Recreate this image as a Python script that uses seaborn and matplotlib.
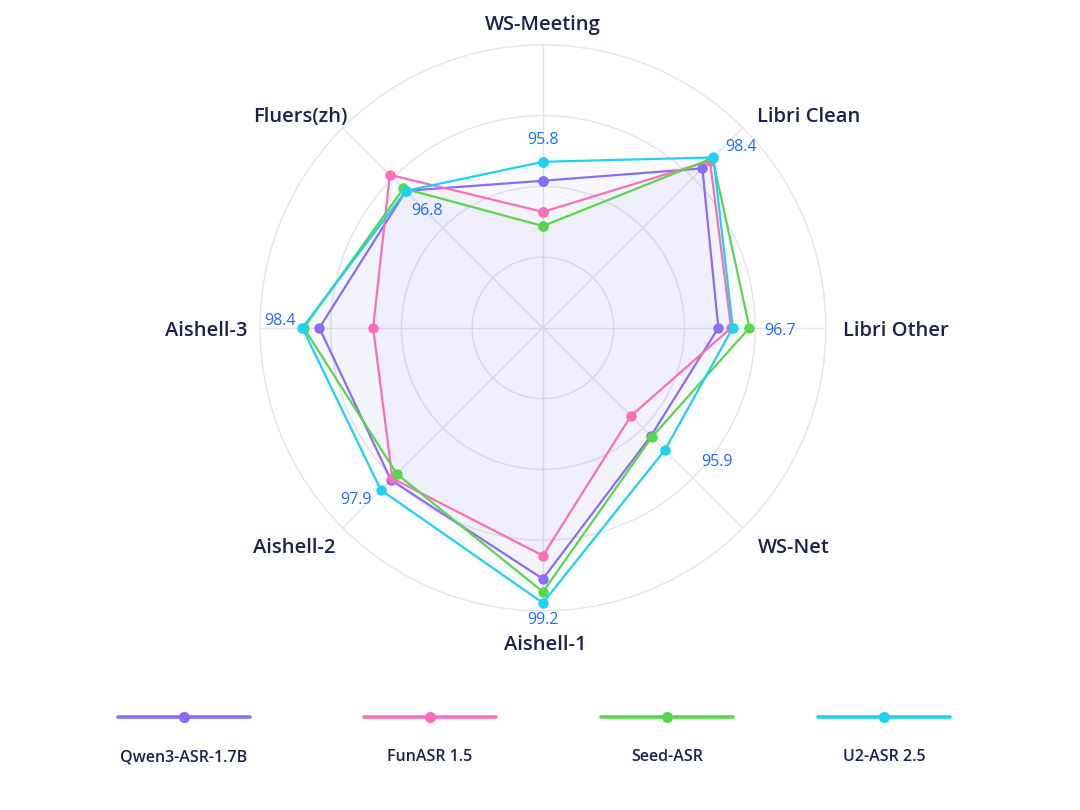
import numpy as np
import pandas as pd
import matplotlib
matplotlib.use('Agg')
import matplotlib.pyplot as plt
from matplotlib.lines import Line2D
import seaborn as sns

# benchmark spokes, clockwise from the top
axes_names = ['WS-Meeting', 'Libri Clean', 'Libri Other', 'WS-Net',
              'Aishell-1', 'Aishell-2', 'Aishell-3', 'Fluers(zh)']
models = ['Qwen3-ASR-1.7B', 'FunASR 1.5', 'Seed-ASR', 'U2-ASR 2.5']

# normalised radius on each spoke (1.0 = outer ring)
qwen = [0.52, 0.797, 0.62, 0.54, 0.887, 0.76, 0.79, 0.685]
funasr = [0.41, 0.835, 0.665, 0.44, 0.805, 0.752, 0.60, 0.765]
seed = [0.36, 0.848, 0.73, 0.545, 0.933, 0.73, 0.845, 0.697]
u2 = [0.587, 0.852, 0.671, 0.61, 0.972, 0.81, 0.85, 0.685]
u2_labels = ['95.8', '98.4', '96.7', '95.9', '99.2', '97.9', '98.4', '96.8']

colors = {'Qwen3-ASR-1.7B': '#8a6cf5', 'FunASR 1.5': '#fb6fb6',
          'Seed-ASR': '#5bd64c', 'U2-ASR 2.5': '#1fd1f3'}
navy = '#1c2150'
blue = '#1f6bff'
grid_c = '#e4e4ea'

sns.set_theme(style='white')
plt.rcParams['font.family'] = ['Open Sans', 'DejaVu Sans']

n = len(axes_names)
angles = np.arange(n) * 2 * np.pi / n
series = {'Qwen3-ASR-1.7B': qwen, 'FunASR 1.5': funasr, 'Seed-ASR': seed, 'U2-ASR 2.5': u2}

rows = []
for m in models:
    vals = series[m]
    for i in range(n + 1):
        rows.append({'model': m, 'theta': angles[i] if i < n else 2 * np.pi,
                     'r': vals[i % n]})
df = pd.DataFrame(rows)

fig = plt.figure(figsize=(10.8, 8.1), dpi=100)
ax = fig.add_axes([0.2407, 0.2457, 0.524, 0.699], projection='polar')
ax.set_theta_offset(np.pi / 2)
ax.set_theta_direction(-1)
ax.set_ylim(0, 1)
ax.set_yticks([0.25, 0.5, 0.75])
ax.set_yticklabels([])
ax.set_xticks(angles)
ax.set_xticklabels([])
ax.grid(color=grid_c, linewidth=1)
ax.spines['polar'].set_color(grid_c)
ax.spines['polar'].set_linewidth(1)
ax.set_facecolor('white')

# light lavender fill under every polygon
for m in models:
    d = df[df.model == m]
    ax.fill(d.theta, d.r, color='#7d70ee', alpha=0.028, lw=0, zorder=1)

sns.lineplot(data=df, x='theta', y='r', hue='model', palette=colors,
             sort=False, estimator=None, units='model', marker='o',
             markersize=7.5, markeredgewidth=0, linewidth=1.6,
             legend=False, ax=ax)
ax.set_xlabel('')
ax.set_ylabel('')

px = 72 / fig.dpi

# spoke names: (dx, dy) in pixels from the end of the spoke
name_pos = [(0, 20, 'center'), (14, 11, 'left'), (17, -3, 'left'), (15, -20, 'left'),
            (2, -34, 'center'), (-7, -20, 'right'), (-12, -3, 'right'), (5, 11, 'right')]
for a, name, (dx, dy, ha) in zip(angles, axes_names, name_pos):
    ax.annotate(name, xy=(a, 1.0), xytext=(dx * px, dy * px), textcoords='offset points',
                ha=ha, va='center', fontsize=14.5, fontweight=600, color=navy,
                annotation_clip=False)

# U2-ASR scores next to its points
val_off = [(0, 22), (28, 10), (47, -3), (52, -12), (0, -17), (-25, -10), (-22, 7), (21, -20)]
for a, r, lab, (dx, dy) in zip(angles, u2, u2_labels, val_off):
    ax.annotate(lab, xy=(a, r), xytext=(dx * px, dy * px), textcoords='offset points',
                ha='center', va='center', fontsize=11.5, color=blue, annotation_clip=False)

# legend: line with marker on top, name underneath
leg_x = [184, 430, 667, 884]
W, H = 1080, 810
for m, cx in zip(models, leg_x):
    line = Line2D([(cx - 66) / W, (cx + 66) / W], [1 - 717 / H, 1 - 717 / H],
                  transform=fig.transFigure, color=colors[m], lw=2.6)
    dot = Line2D([cx / W], [1 - 717 / H], transform=fig.transFigure, color=colors[m],
                 marker='o', markersize=8, markeredgewidth=0, lw=0)
    fig.add_artist(line)
    fig.add_artist(dot)
    fig.text(cx / W, 1 - 757 / H, m, ha='center', va='center', fontsize=11.5,
             fontweight=600, color=navy)

fig.savefig('out.png', dpi=100, facecolor='white')
